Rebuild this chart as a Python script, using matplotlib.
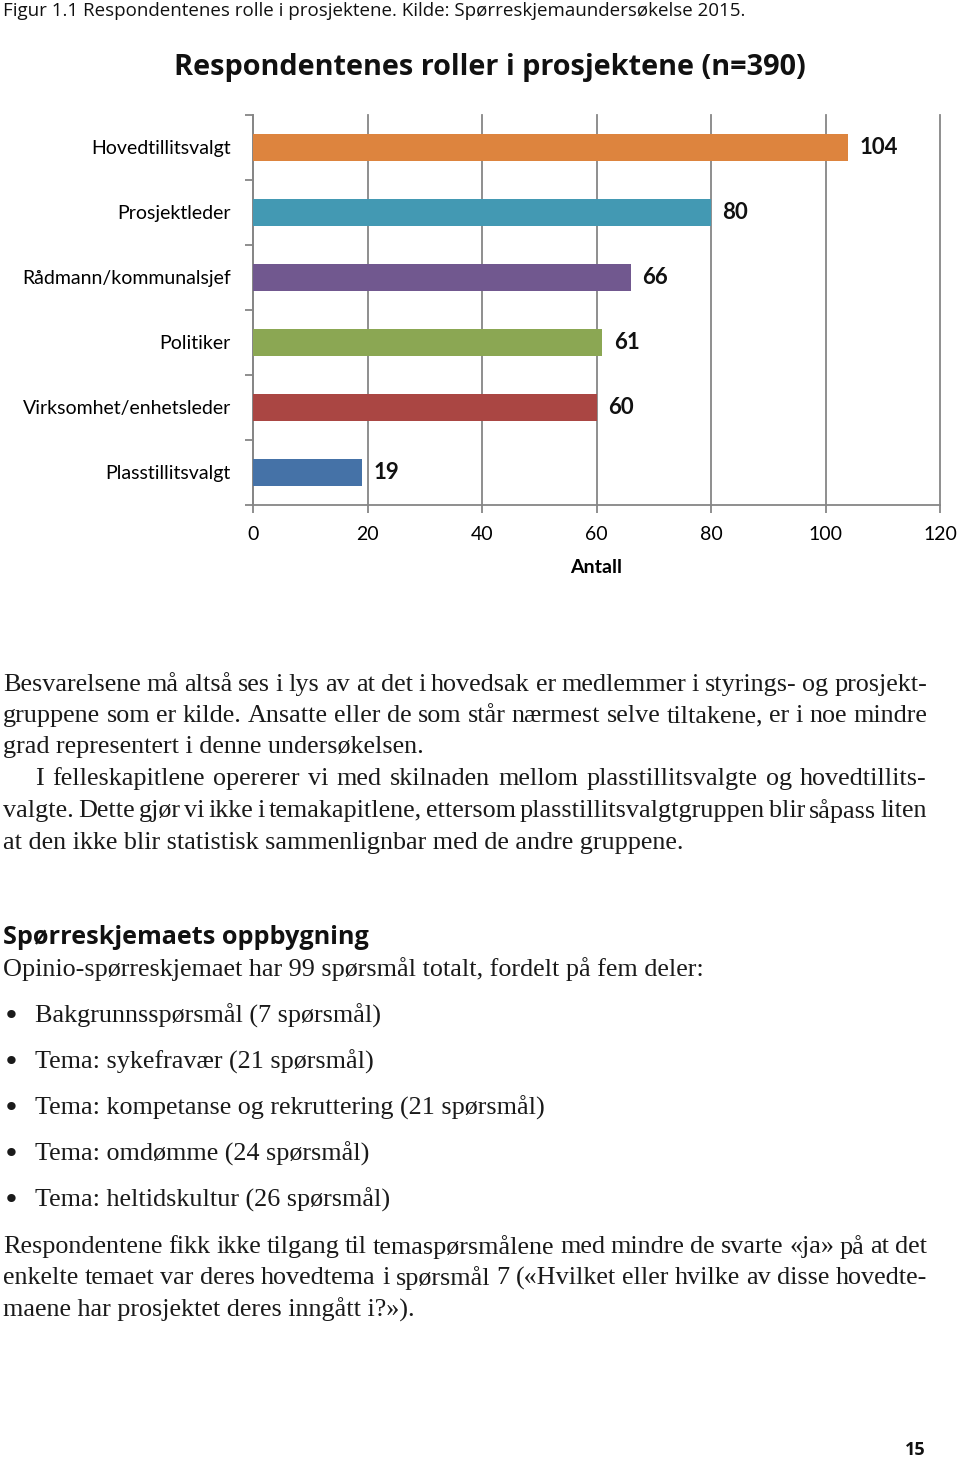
import matplotlib.pyplot as plt
from matplotlib.ticker import FixedLocator

# chart data
roles = ["Hovedtillitsvalgt", "Prosjektleder", "Rådmann/kommunalsjef",
         "Politiker", "Virksomhet/enhetsleder", "Plasstillitsvalgt"]
counts = [104, 80, 66, 61, 60, 19]
colors = ["#DD843E", "#4399B3", "#71588F", "#8BA753", "#AA4643", "#4572A7"]
xticks = [0, 20, 40, 60, 80, 100, 120]

caption = "Figur 1.1 Respondentenes rolle i prosjektene. Kilde: Spørreskjemaundersøkelse 2015."
title = "Respondentenes roller i prosjektene (n=390)"

para1 = [
    ("Besvarelsene må altså ses i lys av at det i hovedsak er medlemmer i styrings- og prosjekt-", True, 3),
    ("gruppene som er kilde. Ansatte eller de som står nærmest selve tiltakene, er i noe mindre", True, 3),
    ("grad representert i denne undersøkelsen.", False, 3),
    ("I felleskapitlene opererer vi med skilnaden mellom plasstillitsvalgte og hovedtillits-", True, 35),
    ("valgte. Dette gjør vi ikke i temakapitlene, ettersom plasstillitsvalgtgruppen blir såpass liten", True, 3),
    ("at den ikke blir statistisk sammenlignbar med de andre gruppene.", False, 3),
]
heading = "Spørreskjemaets oppbygning"
intro = "Opinio-spørreskjemaet har 99 spørsmål totalt, fordelt på fem deler:"
bullets = ["Bakgrunnsspørsmål (7 spørsmål)", "Tema: sykefravær (21 spørsmål)",
           "Tema: kompetanse og rekruttering (21 spørsmål)", "Tema: omdømme (24 spørsmål)",
           "Tema: heltidskultur (26 spørsmål)"]
para2 = [
    ("Respondentene fikk ikke tilgang til temaspørsmålene med mindre de svarte «ja» på at det", True, 3),
    ("enkelte temaet var deres hovedtema i spørsmål 7 («Hvilket eller hvilke av disse hovedte-", True, 3),
    ("maene har prosjektet deres inngått i?»).", False, 3),
]

W, H = 960, 1457
fig = plt.figure(figsize=(W / 100, H / 100), dpi=100)
bg = fig.add_axes([0, 0, 1, 1])
bg.set_xlim(0, W)
bg.set_ylim(H, 0)
bg.axis("off")
renderer = fig.canvas.get_renderer()

SANS = "Open Sans"
SERIF = "Liberation Serif"


def width_of(s, size, **kw):
    t = bg.text(0, 0, s, fontsize=size, **kw)
    w = t.get_window_extent(renderer).width
    t.remove()
    return w


def put(x, y, s, size, right=None, justify=False, **kw):
    if not justify or right is None:
        bg.text(x, y, s, fontsize=size, va="center", ha="left", **kw)
        return
    words = s.split(" ")
    ws = [width_of(w, size, **kw) for w in words]
    gap = (right - x - sum(ws)) / (len(words) - 1)
    cx = x
    for w, wd in zip(words, ws):
        bg.text(cx, y, w, fontsize=size, va="center", ha="left", **kw)
        cx += wd + gap


# caption: fit to width
cap_size = 13 * 739 / width_of(caption, 13, family=SANS)
put(3, 11, caption, cap_size, family=SANS, color="#111111")

# body text size fitted on an unjustified line
body = 17 * 422 / width_of(para1[2][0], 17, family=SERIF)
ys1 = [685, 716, 747, 779, 811, 843]
for (s, just, x0), y in zip(para1, ys1):
    put(x0, y, s, body, right=927, justify=just, family=SERIF, color="#1a1a1a")

put(3, 938, heading, 15.5 * 365 / width_of(heading, 15.5, family=SANS, weight="bold"),
    family=SANS, weight="bold", color="#111111")
put(3, 969, intro, body, family=SERIF, color="#1a1a1a")
for s, y in zip(bullets, [1016, 1062, 1108, 1154, 1200]):
    put(3, y, "\u2022", body * 1.1, family="DejaVu Sans", color="#1a1a1a")
    put(35, y, s, body, family=SERIF, color="#1a1a1a")
for (s, just, x0), y in zip(para2, [1247, 1278, 1310]):
    put(x0, y, s, body, right=927, justify=just, family=SERIF, color="#1a1a1a")

put(905, 1450, "15", 13, family=SANS, weight="bold", color="#111111")

bg.text(490, 68, title, fontsize=20.8, weight="bold", family=SANS, ha="center", va="center", color="#111111")

# chart
ax = fig.add_axes([253 / W, 1 - 505 / H, (940 - 253) / W, (505 - 115) / H])
pos = list(range(len(roles)))[::-1]
ax.barh(pos, counts, height=0.42, color=colors, zorder=3)
for p, v in zip(pos, counts):
    ax.text(v + 2, p, str(v), va="center", ha="left", fontsize=16, weight="bold",
            family="Lato", color="#111111")
ax.set_xlim(0, 120)
ax.set_ylim(-0.5, 5.5)
ax.set_xticks(xticks)
ax.set_xticklabels([str(t) for t in xticks], family="Lato", fontsize=14)
ax.set_yticks(pos)
ax.set_yticklabels(roles, family="Lato", fontsize=14)
ax.yaxis.set_minor_locator(FixedLocator([i - 0.5 for i in range(7)]))
ax.tick_params(axis="y", which="major", length=0, pad=16)
ax.tick_params(axis="y", which="minor", length=6, color="#868686", width=1.3)
ax.tick_params(axis="x", length=6, color="#868686", width=1.3, pad=9)
ax.grid(axis="x", color="#868686", linewidth=1.3, zorder=0)
for side in ["top", "right"]:
    ax.spines[side].set_visible(False)
for side in ["left", "bottom"]:
    ax.spines[side].set_color("#868686")
    ax.spines[side].set_linewidth(1.3)
ax.set_xlabel("Antall", family="Lato", fontsize=14, weight="bold", labelpad=12)
for l in ax.get_xgridlines():
    l.set_clip_on(False)

fig.savefig("out.png", dpi=100)
